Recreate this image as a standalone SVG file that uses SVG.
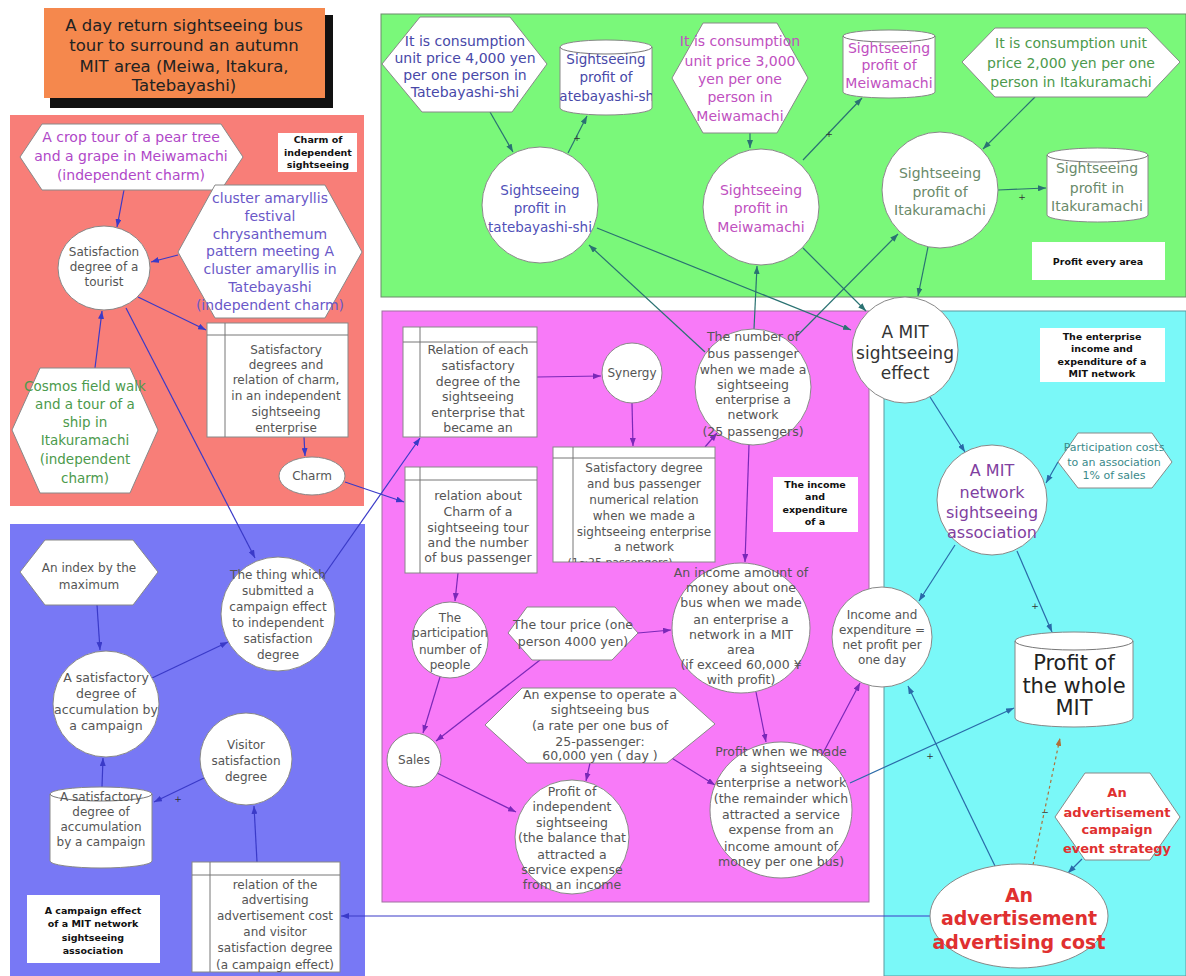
<svg xmlns="http://www.w3.org/2000/svg" width="1186" height="976" viewBox="0 0 1186 976">
<defs>
<style>
.t{font-family:"DejaVu Sans","Liberation Sans",sans-serif;font-size:12.5px;fill:#555;text-anchor:middle}
.b{font-family:"DejaVu Sans","Liberation Sans",sans-serif;font-weight:bold;font-size:9.5px;fill:#111;text-anchor:middle}
.w{fill:#fff;stroke:#888;stroke-width:1}
.ln{fill:none;stroke:#777;stroke-width:1}
.lbl{fill:#fff;stroke:none}
.cb{fill:none;stroke:#3a3ac8;stroke-width:1.2;marker-end:url(#ab)}
.cg{fill:none;stroke:#2a7272;stroke-width:1.2;marker-end:url(#ag)}
.cp{fill:none;stroke:#7a28b8;stroke-width:1.2;marker-end:url(#ap)}
.cc{fill:none;stroke:#2a6aa8;stroke-width:1.2;marker-end:url(#ac)}
.cr{fill:none;stroke:#b0703a;stroke-width:1.2;stroke-dasharray:3,3;marker-end:url(#ar)}
.pm{font-family:"DejaVu Sans",sans-serif;font-size:9px;fill:#333;text-anchor:middle}
</style>
<marker id="ab" markerWidth="8" markerHeight="6" refX="8" refY="3" orient="auto" markerUnits="userSpaceOnUse"><path d="M0,0 L8,3 L0,6 z" fill="#3a3ac8"/></marker>
<marker id="ag" markerWidth="8" markerHeight="6" refX="8" refY="3" orient="auto" markerUnits="userSpaceOnUse"><path d="M0,0 L8,3 L0,6 z" fill="#2a7272"/></marker>
<marker id="ap" markerWidth="8" markerHeight="6" refX="8" refY="3" orient="auto" markerUnits="userSpaceOnUse"><path d="M0,0 L8,3 L0,6 z" fill="#7a28b8"/></marker>
<marker id="ac" markerWidth="8" markerHeight="6" refX="8" refY="3" orient="auto" markerUnits="userSpaceOnUse"><path d="M0,0 L8,3 L0,6 z" fill="#2a6aa8"/></marker>
<marker id="ar" markerWidth="8" markerHeight="6" refX="8" refY="3" orient="auto" markerUnits="userSpaceOnUse"><path d="M0,0 L8,3 L0,6 z" fill="#b0703a"/></marker>
<clipPath id="k16"><rect x="560" y="40" width="92" height="75"/></clipPath>
<clipPath id="k19"><rect x="843" y="30" width="92" height="68"/></clipPath>
<clipPath id="k23"><rect x="1047" y="148" width="101" height="74"/></clipPath>
<clipPath id="k28"><rect x="553" y="447" width="162" height="115"/></clipPath>
</defs>

<g id="background">
<rect x="0" y="0" width="1186" height="976" fill="#fff"/>
<rect x="10" y="115" width="354" height="391" fill="#f87e78"/>
<rect x="10" y="524" width="355" height="452" fill="#7878f5"/>
<rect x="381" y="14" width="805" height="283" fill="#7af87a" stroke="#6a8a6a" stroke-width="1"/>
<rect x="382" y="311" width="487" height="591" fill="#f87af8" stroke="#a070a0" stroke-width="1"/>
<rect x="884" y="311" width="302" height="665" fill="#7af8f8" stroke="#5a9aa0" stroke-width="1"/>
</g>

<g id="title">
<rect x="50" y="15" width="283" height="93" fill="#111"/>
<rect x="44" y="8" width="281" height="90" fill="#f5884d"/>
<text class="t" style="font-size:16.5px;fill:#222"><tspan x="184" y="31">A day return sightseeing bus</tspan><tspan x="184" y="51">tour to surround an autumn</tspan><tspan x="184" y="72">MIT area (Meiwa, Itakura,</tspan><tspan x="184" y="91">Tatebayashi)</tspan></text>
</g>

<g id="connectors">
<path class="cb" d="M124,190 L117,227"/>
<path class="cb" d="M178,255 L151,262"/>
<path class="cb" d="M95,368 L102,311"/>
<path class="cb" d="M138,297 L206,330"/>
<path class="cb" d="M126,308 L255,558"/>
<path class="cb" d="M304,437 L305,456"/>
<path class="cb" d="M345,482 L404,502"/>
<path class="cb" d="M322,578 L420,438"/>
<path class="cb" d="M97,605 L100,650"/>
<path class="cb" d="M152,678 L228,642"/>
<path class="cb" d="M102,787 L103,758"/>
<path class="cb" d="M204,778 L154,802"/>
<path class="cb" d="M257,862 L254,806"/>
<path class="cb" d="M930,916 L341,916"/>
<path class="cg" d="M490,112 L513,152"/>
<path class="cg" d="M568,153 L587,116"/>
<path class="cg" d="M750,133 L750,148"/>
<path class="cg" d="M803,160 L862,98"/>
<path class="cg" d="M1035,97 L983,149"/>
<path class="cg" d="M998,190 L1046,188"/>
<path class="cg" d="M597,228 L851,330"/>
<path class="cg" d="M803,248 L866,311"/>
<path class="cg" d="M928,247 L918,296"/>
<path class="cg" d="M797,336 L898,234"/>
<path class="cg" d="M754,329 L757,266"/>
<path class="cg" d="M705,352 L589,245"/>
<path class="cp" d="M537,377 L601,376"/>
<path class="cp" d="M632,403 L633,446"/>
<path class="cp" d="M705,447 L717,433"/>
<path class="cp" d="M749,445 L745,562"/>
<path class="cp" d="M458,573 L455,601"/>
<path class="cp" d="M638,633 L671,630"/>
<path class="cp" d="M440,677 L423,733"/>
<path class="cp" d="M540,660 L436,741"/>
<path class="cp" d="M437,773 L516,812"/>
<path class="cp" d="M590,763 L586,781"/>
<path class="cp" d="M670,757 L715,785"/>
<path class="cp" d="M756,692 L766,742"/>
<path class="cp" d="M822,755 L860,683"/>
<path class="cc" d="M850,783 L1014,708"/>
<path class="cc" d="M930,397 L965,452"/>
<path class="cc" d="M1058,462 L1046,483"/>
<path class="cc" d="M955,545 L919,601"/>
<path class="cc" d="M1017,551 L1052,632"/>
<path class="cc" d="M995,866 L908,686"/>
<path class="cr" d="M1033,865 L1060,738"/>
<path class="cc" d="M1082,859 L1068,873"/>
<text class="pm" x="577" y="141">+</text>
<text class="pm" x="829" y="137">+</text>
<text class="pm" x="1022" y="200">+</text>
<text class="pm" x="178" y="802">+</text>
<text class="pm" x="930" y="759">+</text>
<text class="pm" x="1035" y="609">+</text>
<text class="pm" x="1045" y="815">−</text>
</g>

<g id="n-crop">
<polygon class="w" points="20,157 42,124 221,124 243,157 221,190 42,190"/>
<text class="t" style="font-size:14px;fill:#b048c8"><tspan x="131" y="142">A crop tour of a pear tree</tspan><tspan x="131" y="161">and a grape in Meiwamachi</tspan><tspan x="131" y="180">(independent charm)</tspan></text>
</g>
<g id="n-charm-label">
<rect class="lbl" x="278" y="133" width="79" height="39"/>
<text class="b"><tspan x="318" y="143">Charm of</tspan><tspan x="318" y="156">independent</tspan><tspan x="318" y="168">sightseeing</tspan></text>
</g>
<g id="n-satisfaction">
<ellipse class="w" cx="104" cy="268" rx="46" ry="42"/>
<text class="t" style="font-size:12px"><tspan x="104" y="256">Satisfaction</tspan><tspan x="104" y="271">degree of a</tspan><tspan x="104" y="286">tourist</tspan></text>
</g>
<g id="n-cluster">
<polygon class="w" points="178,252 215,185 325,185 362,252 325,318 215,318"/>
<text class="t" style="font-size:14px;fill:#6a58c8"><tspan x="270" y="203">cluster amaryllis</tspan><tspan x="270" y="221">festival</tspan><tspan x="270" y="239">chrysanthemum</tspan><tspan x="270" y="256">pattern meeting A</tspan><tspan x="270" y="274">cluster amaryllis in</tspan><tspan x="270" y="292">Tatebayashi</tspan><tspan x="270" y="310">(independent charm)</tspan></text>
</g>
<g id="n-cosmos">
<polygon class="w" points="12,430 40,368 130,368 158,430 130,493 40,493"/>
<text class="t" style="font-size:13.5px;fill:#4c9a4c"><tspan x="85" y="391">Cosmos field walk</tspan><tspan x="85" y="409">and a tour of a</tspan><tspan x="85" y="427">ship in</tspan><tspan x="85" y="445">Itakuramachi</tspan><tspan x="85" y="464">(independent</tspan><tspan x="85" y="483">charm)</tspan></text>
</g>
<g id="n-satis-table">
<rect class="w" x="207" y="323" width="141" height="114"/>
<path class="ln" d="M207,335 H348 M225,323 V437"/>
<text class="t" style="font-size:12px"><tspan x="286" y="354">Satisfactory</tspan><tspan x="286" y="369">degrees and</tspan><tspan x="286" y="384">relation of charm,</tspan><tspan x="286" y="400">in an independent</tspan><tspan x="286" y="416">sightseeing</tspan><tspan x="286" y="432">enterprise</tspan></text>
</g>
<g id="n-charm">
<ellipse class="w" cx="312" cy="476" rx="33" ry="19"/>
<text class="t" style="font-size:12px" x="312" y="480">Charm</text>
</g>

<g id="n-index">
<polygon class="w" points="20,572 45,540 133,540 158,572 133,605 45,605"/>
<text class="t" style="font-size:12px"><tspan x="89" y="572">An index by the</tspan><tspan x="89" y="589">maximum</tspan></text>
</g>
<g id="n-thing">
<circle class="w" cx="278" cy="614" r="57"/>
<text class="t" style="font-size:12px"><tspan x="278" y="579">The thing which</tspan><tspan x="278" y="595">submitted a</tspan><tspan x="278" y="611">campaign effect</tspan><tspan x="278" y="627">to independent</tspan><tspan x="278" y="643">satisfaction</tspan><tspan x="278" y="659">degree</tspan></text>
</g>
<g id="n-accum">
<circle class="w" cx="106" cy="704" r="53"/>
<text class="t" style="font-size:12.5px"><tspan x="106" y="682">A satisfactory</tspan><tspan x="106" y="698">degree of</tspan><tspan x="106" y="714">accumulation by</tspan><tspan x="106" y="730">a campaign</tspan></text>
</g>
<g id="n-visitor">
<circle class="w" cx="246" cy="759" r="46"/>
<text class="t" style="font-size:12px"><tspan x="246" y="749">Visitor</tspan><tspan x="246" y="765">satisfaction</tspan><tspan x="246" y="781">degree</tspan></text>
</g>
<g id="n-accum-store">
<path class="w" d="M50,794 A51,7 0 0 1 152,794 V861 A51,7 0 0 1 50,861 Z"/>
<path class="ln" d="M50,794 A51,7 0 0 0 152,794"/>
<text class="t" style="font-size:12px"><tspan x="101" y="801">A satisfactory</tspan><tspan x="101" y="816">degree of</tspan><tspan x="101" y="831">accumulation</tspan><tspan x="101" y="846">by a campaign</tspan></text>
</g>
<g id="n-campaign-label">
<rect class="lbl" x="27" y="895" width="133" height="68"/>
<text class="b"><tspan x="93" y="914">A campaign effect</tspan><tspan x="93" y="927">of a MIT network</tspan><tspan x="93" y="941">sightseeing</tspan><tspan x="93" y="954">association</tspan></text>
</g>
<g id="n-adv-table">
<rect class="w" x="192" y="862" width="148" height="110"/>
<path class="ln" d="M192,875 H340 M210,862 V972"/>
<text class="t" style="font-size:12px"><tspan x="275" y="889">relation of the</tspan><tspan x="275" y="904">advertising</tspan><tspan x="275" y="920">advertisement cost</tspan><tspan x="275" y="936">and visitor</tspan><tspan x="275" y="952">satisfaction degree</tspan><tspan x="275" y="969">(a campaign effect)</tspan></text>
</g>

<g id="n-hex4000">
<polygon class="w" points="382,64 420,17 510,17 547,64 512,112 422,112"/>
<text class="t" style="font-size:14px;fill:#4848a8"><tspan x="465" y="46">It is consumption</tspan><tspan x="465" y="63">unit price 4,000 yen</tspan><tspan x="465" y="80">per one person in</tspan><tspan x="465" y="97">Tatebayashi-shi</tspan></text>
</g>
<g id="n-cyl-tate">
<path class="w" d="M560,47 A46,7 0 0 1 652,47 V108 A46,7 0 0 1 560,108 Z"/>
<path class="ln" d="M560,47 A46,7 0 0 0 652,47"/>
<text class="t" clip-path="url(#k16)" style="font-size:13.5px;fill:#4848a8"><tspan x="606" y="64">Sightseeing</tspan><tspan x="606" y="82">profit of</tspan><tspan x="606" y="101">tatebayashi-shi</tspan></text>
</g>
<g id="n-prof-tate">
<circle class="w" cx="540" cy="205" r="58"/>
<text class="t" style="font-size:13.5px;fill:#5050b8"><tspan x="540" y="195">Sightseeing</tspan><tspan x="540" y="213">profit in</tspan><tspan x="540" y="232">tatebayashi-shi</tspan></text>
</g>
<g id="n-hex3000">
<polygon class="w" points="672,78 703,23 777,23 808,78 777,133 703,133"/>
<text class="t" style="font-size:14px;fill:#c050c0"><tspan x="740" y="46">It is consumption</tspan><tspan x="740" y="66">unit price 3,000</tspan><tspan x="740" y="84">yen per one</tspan><tspan x="740" y="102">person in</tspan><tspan x="740" y="121">Meiwamachi</tspan></text>
</g>
<g id="n-cyl-meiwa">
<path class="w" d="M843,36 A46,6 0 0 1 935,36 V92 A46,6 0 0 1 843,92 Z"/>
<path class="ln" d="M843,36 A46,6 0 0 0 935,36"/>
<text class="t" clip-path="url(#k19)" style="font-size:14px;fill:#c050c0"><tspan x="889" y="53">Sightseeing</tspan><tspan x="889" y="70">profit of</tspan><tspan x="889" y="88">Meiwamachi</tspan></text>
</g>
<g id="n-prof-meiwa">
<circle class="w" cx="761" cy="207" r="58"/>
<text class="t" style="font-size:14px;fill:#c050c0"><tspan x="761" y="195">Sightseeing</tspan><tspan x="761" y="213">profit in</tspan><tspan x="761" y="232">Meiwamachi</tspan></text>
</g>
<g id="n-hex2000">
<polygon class="w" points="962,62 995,28 1147,28 1180,62 1147,97 995,97"/>
<text class="t" style="font-size:14px;fill:#4c9a4c"><tspan x="1071" y="48">It is consumption unit</tspan><tspan x="1071" y="68">price 2,000 yen per one</tspan><tspan x="1071" y="87">person in Itakuramachi</tspan></text>
</g>
<g id="n-prof-itakura">
<circle class="w" cx="940" cy="190" r="58"/>
<text class="t" style="font-size:14px;fill:#6a8a6a"><tspan x="940" y="178">Sightseeing</tspan><tspan x="940" y="197">profit of</tspan><tspan x="940" y="215">Itakuramachi</tspan></text>
</g>
<g id="n-cyl-itakura">
<path class="w" d="M1047,155 A50.5,7 0 0 1 1148,155 V215 A50.5,7 0 0 1 1047,215 Z"/>
<path class="ln" d="M1047,155 A50.5,7 0 0 0 1148,155"/>
<text class="t" clip-path="url(#k23)" style="font-size:14px;fill:#6a8a6a"><tspan x="1097" y="173">Sightseeing</tspan><tspan x="1097" y="193">profit in</tspan><tspan x="1097" y="211">Itakuramachi</tspan></text>
</g>
<g id="n-profit-label">
<rect class="lbl" x="1032" y="242" width="133" height="38"/>
<text class="b" x="1098" y="265">Profit every area</text>
</g>

<g id="n-rel-each">
<rect class="w" x="403" y="327" width="134" height="110"/>
<path class="ln" d="M403,342 H537 M420,327 V437"/>
<text class="t"><tspan x="478" y="354">Relation of each</tspan><tspan x="478" y="370">satisfactory</tspan><tspan x="478" y="386">degree of the</tspan><tspan x="478" y="401">sightseeing</tspan><tspan x="478" y="417">enterprise that</tspan><tspan x="478" y="432">became an</tspan></text>
</g>
<g id="n-synergy">
<circle class="w" cx="632" cy="373" r="30"/>
<text class="t" style="font-size:12px" x="632" y="377">Synergy</text>
</g>
<g id="n-bus">
<circle class="w" cx="753" cy="387" r="58"/>
<text class="t"><tspan x="753" y="341">The number of</tspan><tspan x="753" y="358">bus passenger</tspan><tspan x="753" y="374">when we made a</tspan><tspan x="753" y="389">sightseeing</tspan><tspan x="753" y="404">enterprise a</tspan><tspan x="753" y="419">network</tspan><tspan x="753" y="436">(25 passengers)</tspan></text>
</g>
<g id="n-satis-bus-table">
<rect class="w" x="553" y="447" width="162" height="115"/>
<path class="ln" d="M553,458 H715 M573,447 V562"/>
<text class="t" clip-path="url(#k28)" style="font-size:12px"><tspan x="644" y="472">Satisfactory degree</tspan><tspan x="644" y="488">and bus passenger</tspan><tspan x="644" y="504">numerical relation</tspan><tspan x="644" y="520">when we made a</tspan><tspan x="644" y="536">sightseeing enterprise</tspan><tspan x="644" y="551">a network</tspan></text>
<text class="t" clip-path="url(#k28)" style="font-size:11px" x="620" y="566">(1~25 passengers)</text>
</g>
<g id="n-income-label">
<rect class="lbl" x="773" y="477" width="85" height="55"/>
<text class="b"><tspan x="815" y="488">The income</tspan><tspan x="815" y="500">and</tspan><tspan x="815" y="513">expenditure</tspan><tspan x="815" y="525">of a</tspan></text>
</g>
<g id="n-rel-charm">
<rect class="w" x="405" y="467" width="132" height="106"/>
<path class="ln" d="M405,480 H537 M420,467 V573"/>
<text class="t"><tspan x="478" y="500">relation about</tspan><tspan x="478" y="516">Charm of a</tspan><tspan x="478" y="532">sightseeing tour</tspan><tspan x="478" y="547">and the number</tspan><tspan x="478" y="562">of bus passenger</tspan></text>
</g>
<g id="n-particip">
<circle class="w" cx="450" cy="640" r="38"/>
<text class="t" style="font-size:12px"><tspan x="450" y="622">The</tspan><tspan x="450" y="637">participation</tspan><tspan x="450" y="654">number of</tspan><tspan x="450" y="669">people</tspan></text>
</g>
<g id="n-tour">
<polygon class="w" points="508,633 527,607 615,607 638,633 612,660 532,660"/>
<text class="t"><tspan x="573" y="629">The tour price (one</tspan><tspan x="573" y="646">person 4000 yen)</tspan></text>
</g>
<g id="n-income">
<ellipse class="w" cx="741" cy="628" rx="69" ry="65"/>
<text class="t"><tspan x="741" y="577">An income amount of</tspan><tspan x="741" y="592">money about one</tspan><tspan x="741" y="607">bus when we made</tspan><tspan x="741" y="624">an enterprise a</tspan><tspan x="741" y="639">network in a MIT</tspan><tspan x="741" y="654">area</tspan><tspan x="741" y="669">(if exceed 60,000 ¥</tspan><tspan x="741" y="684">with profit)</tspan></text>
</g>
<g id="n-sales">
<circle class="w" cx="414" cy="760" r="27"/>
<text class="t" style="font-size:12px" x="414" y="764">Sales</text>
</g>
<g id="n-expense">
<polygon class="w" points="485,725 522,688 675,688 715,724 667,763 527,763"/>
<text class="t"><tspan x="600" y="699">An expense to operate a</tspan><tspan x="600" y="714">sightseeing bus</tspan><tspan x="600" y="730">(a rate per one bus of</tspan><tspan x="600" y="746">25-passenger:</tspan><tspan x="600" y="760">60,000 yen ( day )</tspan></text>
</g>
<g id="n-prof-indep">
<circle class="w" cx="572" cy="837" r="57"/>
<text class="t"><tspan x="572" y="796">Profit of</tspan><tspan x="572" y="811">independent</tspan><tspan x="572" y="827">sightseeing</tspan><tspan x="572" y="842">(the balance that</tspan><tspan x="572" y="859">attracted a</tspan><tspan x="572" y="874">service expense</tspan><tspan x="572" y="889">from an income</tspan></text>
</g>
<g id="n-prof-net">
<ellipse class="w" cx="781" cy="810" rx="71" ry="68"/>
<text class="t"><tspan x="781" y="756">Profit when we made</tspan><tspan x="781" y="772">a sightseeing</tspan><tspan x="781" y="787">enterprise a network</tspan><tspan x="781" y="803">(the remainder which</tspan><tspan x="781" y="819">attracted a service</tspan><tspan x="781" y="834">expense from an</tspan><tspan x="781" y="851">income amount of</tspan><tspan x="781" y="866">money per one bus)</tspan></text>
</g>

<g id="n-mit-effect">
<circle class="w" cx="905" cy="350" r="53"/>
<text class="t" style="font-size:17px;fill:#333"><tspan x="905" y="338">A MIT</tspan><tspan x="905" y="359">sightseeing</tspan><tspan x="905" y="379">effect</tspan></text>
</g>
<g id="n-enterprise-label">
<rect class="lbl" x="1040" y="328" width="125" height="54"/>
<text class="b"><tspan x="1102" y="340">The enterprise</tspan><tspan x="1102" y="352">income and</tspan><tspan x="1102" y="365">expenditure of a</tspan><tspan x="1102" y="377">MIT network</tspan></text>
</g>
<g id="n-assoc">
<circle class="w" cx="992" cy="500" r="55"/>
<text class="t" style="font-size:16px;fill:#8040a0"><tspan x="992" y="476">A MIT</tspan><tspan x="992" y="498">network</tspan><tspan x="992" y="518">sightseeing</tspan><tspan x="992" y="538">association</tspan></text>
</g>
<g id="n-partcost">
<polygon class="w" points="1058,462 1078,433 1152,433 1172,462 1152,488 1078,488"/>
<text class="t" style="font-size:11px;fill:#3a8a8a"><tspan x="1114" y="451">Participation costs</tspan><tspan x="1114" y="466">to an association</tspan><tspan x="1114" y="479">1% of sales</tspan></text>
</g>
<g id="n-netprofit">
<circle class="w" cx="882" cy="637" r="50"/>
<text class="t" style="font-size:12px"><tspan x="882" y="619">Income and</tspan><tspan x="882" y="634">expenditure =</tspan><tspan x="882" y="649">net profit per</tspan><tspan x="882" y="664">one day</tspan></text>
</g>
<g id="n-whole">
<path class="w" d="M1015,641 A59,9 0 0 1 1133,641 V718 A59,9 0 0 1 1015,718 Z"/>
<path class="ln" d="M1015,641 A59,9 0 0 0 1133,641"/>
<text class="t" style="font-size:21px;fill:#222"><tspan x="1074" y="670">Profit of</tspan><tspan x="1074" y="693">the whole</tspan><tspan x="1074" y="715">MIT</tspan></text>
</g>
<g id="n-strategy">
<polygon class="w" points="1055,817 1085,773 1150,773 1180,817 1150,860 1085,860"/>
<text class="t" style="font-size:13px;font-weight:bold;fill:#e03030"><tspan x="1117" y="797">An</tspan><tspan x="1117" y="817">advertisement</tspan><tspan x="1117" y="834">campaign</tspan><tspan x="1117" y="853">event strategy</tspan></text>
</g>
<g id="n-adcost">
<ellipse class="w" cx="1019" cy="916" rx="89" ry="52"/>
<text class="t" style="font-size:19px;font-weight:bold;fill:#e03030"><tspan x="1019" y="902">An</tspan><tspan x="1019" y="925">advertisement</tspan><tspan x="1019" y="949">advertising cost</tspan></text>
</g>
</svg>
